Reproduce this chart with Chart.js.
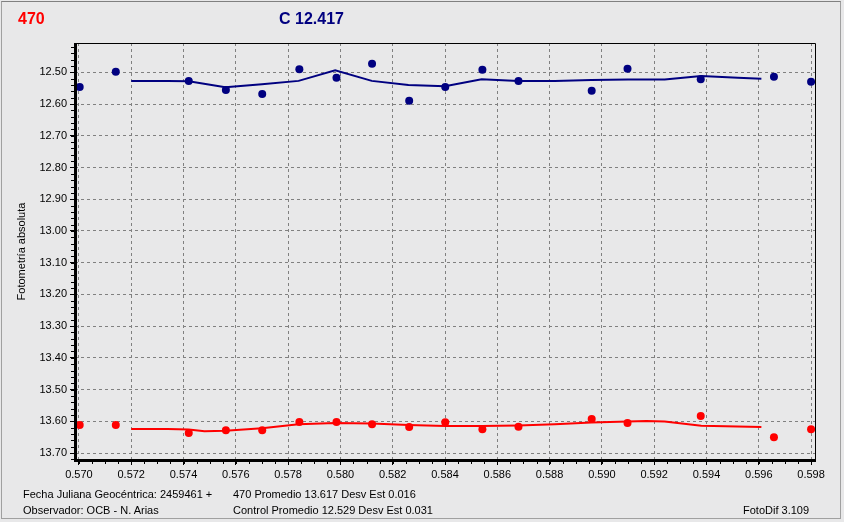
<!DOCTYPE html>
<html>
<head>
<meta charset="utf-8">
<script src="https://cdn.jsdelivr.net/npm/chart.js@4/dist/chart.umd.min.js"></script>
<style>
  html, body { margin:0; padding:0; background:#e8e8e9; }
  #wrap { position:relative; width:844px; height:522px; overflow:hidden; background:#e8e8e9; font-family:'Liberation Sans', Arial, sans-serif; }
  #frame { position:absolute; left:1px; top:1px; width:838px; height:516px; border:1px solid #a0a0a0; border-top-color:#808080; pointer-events:none; }
  canvas { position:absolute; left:0; top:0; }
  .txt { position:absolute; white-space:nowrap; font-size:11px; line-height:13px; color:#000; }
  .ttl { position:absolute; white-space:nowrap; font-size:16px; line-height:18px; font-weight:bold; }
</style>
</head>
<body>
<div id="wrap">
  <canvas id="c" width="844" height="522"></canvas>
  <div id="frame"></div>
  <div class="ttl" style="left:18px;top:10px;color:#ff0000">470</div>
  <div class="ttl" style="left:279px;top:10px;color:#000080">C 12.417</div>
  <div class="txt" style="left:23px;top:488px">Fecha Juliana Geocéntrica: 2459461 +</div>
  <div class="txt" style="left:23px;top:504px">Observador: OCB - N. Arias</div>
  <div class="txt" style="left:233px;top:488px">470 Promedio 13.617 Desv Est 0.016</div>
  <div class="txt" style="left:233px;top:504px">Control Promedio 12.529 Desv Est 0.031</div>
  <div class="txt" style="left:743px;top:504px">FotoDif 3.109</div>
</div>
<script>
// ── observation times (fraction of JD) ──
const obsX = [0.57003, 0.57141, 0.57420, 0.57562, 0.57701, 0.57843, 0.57985, 0.58121, 0.58263,
              0.58401, 0.58543, 0.58681, 0.58961, 0.59098, 0.59378, 0.59658, 0.59800];
// comparison star (C) magnitudes
const compMag = [12.546, 12.498, 12.527, 12.556, 12.568, 12.490, 12.517, 12.473, 12.590,
                 12.546, 12.492, 12.527, 12.558, 12.489, 12.522, 12.514, 12.530];
// variable 470 magnitudes
const varMag = [13.612, 13.612, 13.637, 13.628, 13.628, 13.602, 13.602, 13.609, 13.618,
                13.603, 13.625, 13.617, 13.593, 13.605, 13.583, 13.650, 13.625];

// smoothed curves
const compFitX = [0.5720, 0.5734, 0.5742, 0.5756, 0.5770, 0.5784, 0.5798, 0.5812, 0.5826, 0.5840,
                  0.5854, 0.5868, 0.5882, 0.5896, 0.5910, 0.5924, 0.5938, 0.5952, 0.5961];
const compFitY = [12.527, 12.527, 12.528, 12.547, 12.538, 12.527, 12.494, 12.527, 12.540, 12.544,
                  12.522, 12.527, 12.527, 12.524, 12.523, 12.523, 12.512, 12.517, 12.520];
const varFitX = [0.5720, 0.5734, 0.5742, 0.5748, 0.5756, 0.5770, 0.5784, 0.5798, 0.5812, 0.5826,
                 0.5840, 0.5854, 0.5868, 0.5882, 0.5896, 0.5910, 0.5917, 0.5924, 0.5938, 0.5961];
const varFitY = [13.624, 13.624, 13.626, 13.631, 13.630, 13.622, 13.609, 13.605, 13.607, 13.612,
                 13.615, 13.615, 13.613, 13.609, 13.604, 13.601, 13.599, 13.601, 13.614, 13.618];

// axes
const xTicks = [0.570, 0.572, 0.574, 0.576, 0.578, 0.580, 0.582, 0.584, 0.586, 0.588, 0.590, 0.592, 0.594, 0.596, 0.598];
const yTicks = [12.50, 12.60, 12.70, 12.80, 12.90, 13.00, 13.10, 13.20, 13.30, 13.40, 13.50, 13.60, 13.70];

const FONT = "'Liberation Sans', Arial, sans-serif";
const pts = (xs, ys) => xs.map((x, i) => ({ x, y: ys[i] }));

// axis lines, thin frame on top/right + small minor ticks
const framePlugin = {
  id: 'frame',
  afterDatasetsDraw(chart) {
    const { ctx, chartArea: a, scales: { x, y } } = chart;
    ctx.save();
    ctx.fillStyle = '#000';
    ctx.fillRect(a.left - 1, a.top, 3, a.bottom - a.top + 1);
    ctx.fillRect(a.left - 1, a.bottom - 1, a.right - a.left + 2, 3);
    ctx.strokeStyle = '#000';
    ctx.lineWidth = 1;
    ctx.beginPath();
    ctx.moveTo(a.left, a.top + 0.5); ctx.lineTo(a.right + 0.5, a.top + 0.5); ctx.lineTo(a.right + 0.5, a.bottom);
    ctx.stroke();
    ctx.beginPath();
    for (let v = 0.5700; v <= 0.5981; v += 0.0005) {
      const px = Math.round(x.getPixelForValue(v)) + 0.5;
      ctx.moveTo(px, a.bottom + 2); ctx.lineTo(px, a.bottom + 4);
    }
    for (let v = 12.42; v <= 13.721; v += 0.02) {
      const py = Math.round(y.getPixelForValue(v)) + 0.5;
      ctx.moveTo(a.left - 4, py); ctx.lineTo(a.left - 1, py);
    }
    ctx.stroke();
    ctx.restore();
  }
};

new Chart(document.getElementById('c'), {
  type: 'scatter',
  data: {
    datasets: [
      { label: 'C fit', type: 'line', data: pts(compFitX, compFitY), borderColor: '#000080', borderWidth: 2, pointRadius: 0, tension: 0, fill: false },
      { label: '470 fit', type: 'line', data: pts(varFitX, varFitY), borderColor: '#ff0000', borderWidth: 2, pointRadius: 0, tension: 0, fill: false },
      { label: 'C', data: pts(obsX, compMag), backgroundColor: '#000080', borderColor: '#000080', pointRadius: 4, pointBorderWidth: 0 },
      { label: '470', data: pts(obsX, varMag), backgroundColor: '#ff0000', borderColor: '#ff0000', pointRadius: 4, pointBorderWidth: 0 }
    ]
  },
  options: {
    responsive: false,
    animation: false,
    events: [],
    layout: { padding: { left: 0, top: 43, right: 29, bottom: 0 } },
    plugins: { legend: { display: false }, tooltip: { enabled: false } },
    scales: {
      x: {
        type: 'linear', min: 0.56985, max: 0.59815,
        afterBuildTicks: s => { s.ticks = xTicks.map(v => ({ value: v })); },
        afterFit: s => { s.height = 62; },
        ticks: { color: '#000', font: { family: FONT, size: 11 }, padding: 3, maxRotation: 0, autoSkip: false, callback: v => v.toFixed(3) },
        grid: { color: '#808080', lineWidth: 1, tickLength: 5, tickColor: '#000' },
        border: { display: false, dash: [3, 3] }
      },
      y: {
        type: 'linear', reverse: true, min: 12.4076, max: 13.722,
        afterBuildTicks: s => { s.ticks = yTicks.map(v => ({ value: v })); },
        afterFit: s => { s.width = 75; },
        ticks: { color: '#000', font: { family: FONT, size: 11 }, padding: 3, autoSkip: false, callback: v => v.toFixed(2) },
        grid: { color: '#808080', lineWidth: 1, tickLength: 5, tickColor: '#000' },
        border: { display: false, dash: [3, 3] },
        title: { display: true, text: 'Fotometría absoluta', color: '#000', font: { family: FONT, size: 11 }, padding: { top: 15, bottom: 0 } }
      }
    }
  },
  plugins: [framePlugin]
});
</script>
</body>
</html>
